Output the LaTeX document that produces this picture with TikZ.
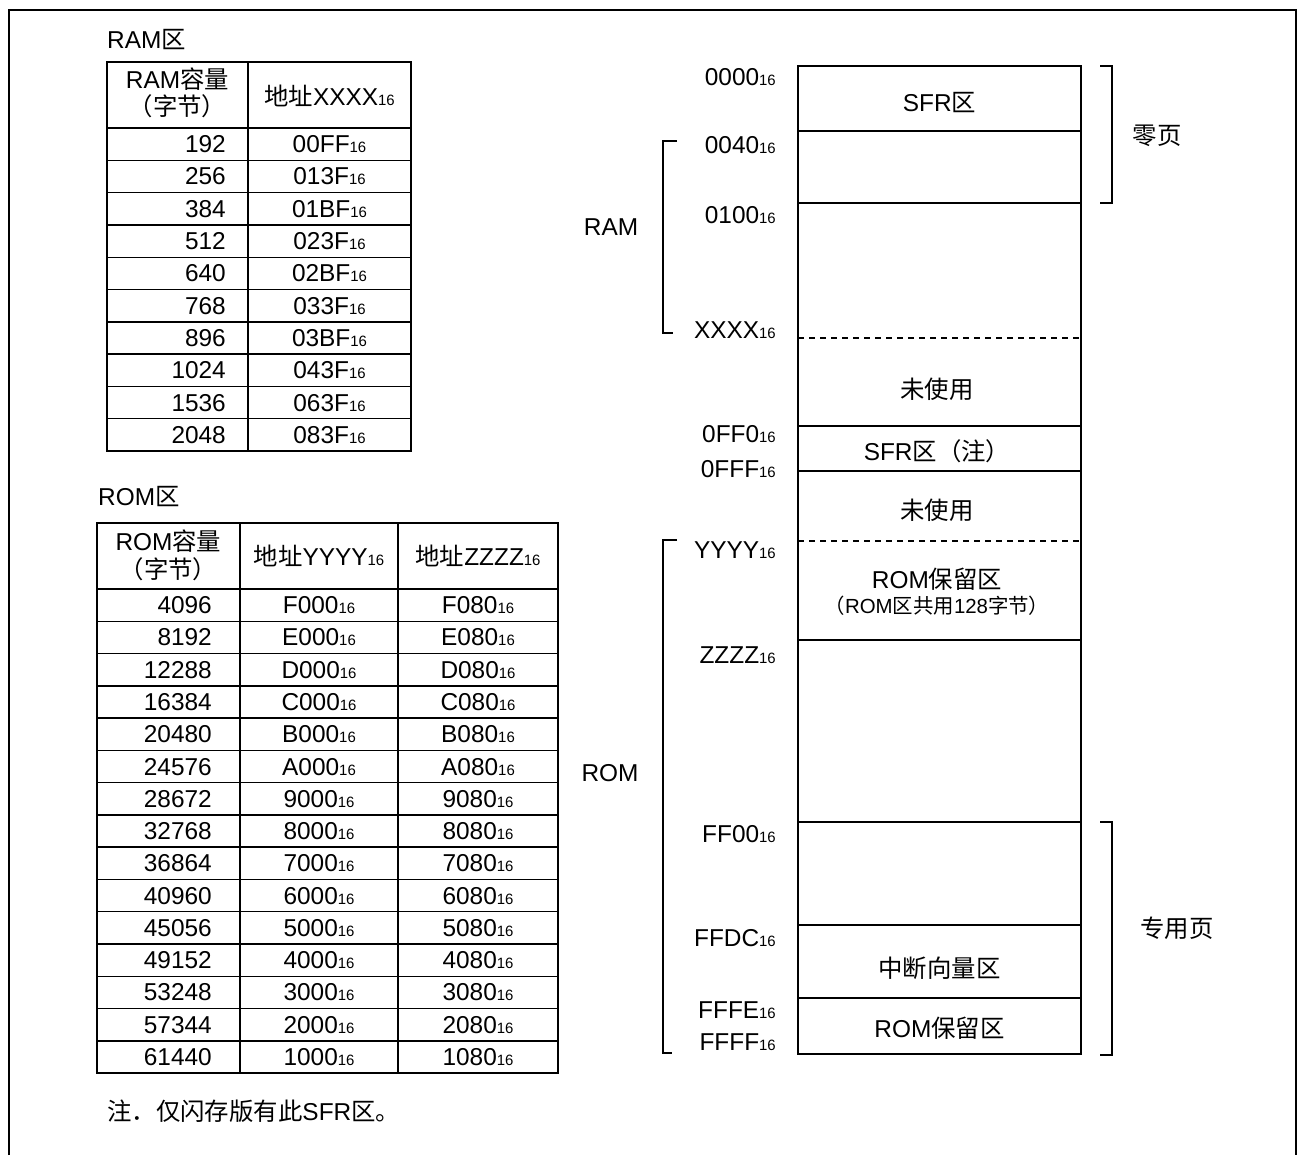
\documentclass[tikz,border=0pt]{standalone}
\usepackage{fontspec}
\setmainfont{Liberation Sans}
\newfontfamily\cjk{Noto Sans CJK SC}
\newcommand\C[1]{{\cjk #1}}
\newcommand\hx[1]{#1{\fontsize{15}{15}\selectfont 16}}
\begin{document}
\begin{tikzpicture}[x=1bp,y=-1bp,
  every node/.style={inner sep=0pt, font=\fontsize{24.5}{28}\selectfont},
  ctxt/.style={anchor=base},
  rtxt/.style={anchor=base east},
  ltxt/.style={anchor=base west},
  small/.style={anchor=base, font=\fontsize{20.5}{24}\selectfont},
  frame/.style={line width=2.6bp},
  grid/.style={line width=1.4bp},
  memline/.style={line width=1.4bp},
  dashline/.style={line width=1.1bp, dash pattern=on 6bp off 5bp},
  brk/.style={line width=1.1bp}]
\useasboundingbox (0,0) rectangle (1304,1155);
% outer frame
\draw[frame] (9,1155) -- (9,10) -- (1296,10) -- (1296,1155);

% ---------------- RAM table ----------------
\node[ltxt] (ramtitle) at (107,48) {RAM\C{区}};
\draw[grid] (107,62) rectangle (411,451);
\draw[grid] (248,62) -- (248,451);
\draw[grid] (107,128) -- (411,128);
\foreach \i in {1,...,9} \draw[grid] (107,{128+32.3*\i}) -- (411,{128+32.3*\i});
\node[ctxt] (ramh1) at (177.5,88) {RAM\C{容量}};
\node[ctxt] (ramh2) at (177.5,115) {\C{（字节）}};
\node[ctxt] (ramh3) at (329.5,105) {\C{地址}\hx{XXXX}};
\foreach \v/\h [count=\i] in {192/00FF,256/013F,384/01BF,512/023F,640/02BF,768/033F,896/03BF,1024/043F,1536/063F,2048/083F}{
  \node[rtxt] (ramc\i) at (226,{128+32.3*(\i-0.5)+8.5}) {\v};
  \node[ctxt] (ramx\i) at (329.5,{128+32.3*(\i-0.5)+8.5}) {\hx{\h}};
}

% ---------------- ROM table ----------------
\node[ltxt] (romtitle) at (98,505) {ROM\C{区}};
\draw[grid] (97,523) rectangle (558,1073);
\draw[grid] (240,523) -- (240,1073);
\draw[grid] (398,523) -- (398,1073);
\draw[grid] (97,589) -- (558,589);
\foreach \i in {1,...,14} \draw[grid] (97,{589+32.27*\i}) -- (558,{589+32.27*\i});
\node[ctxt] (romh1) at (168.5,550) {ROM\C{容量}};
\node[ctxt] (romh2) at (168.5,578) {\C{（字节）}};
\node[ctxt] (romh3) at (319,565) {\C{地址}\hx{YYYY}};
\node[ctxt] (romh4) at (478,565) {\C{地址}\hx{ZZZZ}};
\foreach \v/\a/\b [count=\i] in {4096/F000/F080,8192/E000/E080,12288/D000/D080,16384/C000/C080,20480/B000/B080,24576/A000/A080,28672/9000/9080,32768/8000/8080,36864/7000/7080,40960/6000/6080,45056/5000/5080,49152/4000/4080,53248/3000/3080,57344/2000/2080,61440/1000/1080}{
  \node[rtxt] (romc\i) at (212,{589+32.27*(\i-0.5)+8.5}) {\v};
  \node[ctxt] (romy\i) at (319,{589+32.27*(\i-0.5)+8.5}) {\hx{\a}};
  \node[ctxt] (romz\i) at (478,{589+32.27*(\i-0.5)+8.5}) {\hx{\b}};
}

% ---------------- memory map ----------------
\draw[memline] (798,66) rectangle (1081,1054);
\foreach \y in {131,203,426,471,640,822,925,998} \draw[memline] (798,\y) -- (1081,\y);
\foreach \y in {338,541} \draw[dashline] (798,\y) -- (1081,\y);

\node[ctxt] (sfr1) at (939.5,111) {SFR\C{区}};
\node[ctxt] (unused1) at (937,398) {\C{未使用}};
\node[ctxt] (sfr2) at (937,460) {SFR\C{区（注）}};
\node[ctxt] (unused2) at (937,519) {\C{未使用}};
\node[ctxt] (romres1) at (937,588) {ROM\C{保留区}};
\node[small] (romres1b) at (937,613) {\C{（}ROM\C{区共用}128\C{字节）}};
\node[ctxt] (vect) at (939.5,977) {\C{中断向量区}};
\node[ctxt] (romres2) at (939.5,1037) {ROM\C{保留区}};

% address labels
\foreach \t/\y [count=\i] in {0000/77,0040/145,0100/215,XXXX/330,0FF0/434,0FFF/469,YYYY/550,ZZZZ/655,FF00/834,FFDC/938,FFFE/1010,FFFF/1042}{
  \node[rtxt] (addr\i) at (776,{\y+8.5}) {\hx{\t}};
}

% brackets
\draw[brk] (677,141) -- (663,141) -- (663,333) -- (673,333);
\draw[brk] (677,540) -- (663,540) -- (663,1053) -- (672,1053);
\draw[brk] (1100,66) -- (1112,66) -- (1112,203) -- (1100,203);
\draw[brk] (1100,822) -- (1112,822) -- (1112,1055) -- (1100,1055);
\node[ctxt] (ramlbl) at (611,235) {RAM};
\node[ctxt] (romlbl) at (610,781) {ROM};
\node[ctxt] (zpage) at (1157,144) {\C{零页}};
\node[ctxt] (spage) at (1177,937) {\C{专用页}};

% note
\node[ltxt] (note) at (107,1120) {\C{注．仅闪存版有此}SFR\C{区。}};
\end{tikzpicture}
\end{document}
